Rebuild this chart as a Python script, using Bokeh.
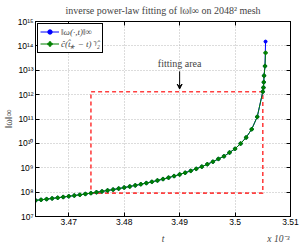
from bokeh.plotting import figure
from bokeh.models import (Range1d, LinearAxis, LogAxis, FixedTicker, CustomJSTickFormatter,
                          Label, Arrow, VeeHead, Legend, LegendItem, Title)
from bokeh.embed import file_html
from bokeh.resources import INLINE

# time in units of 1e-3
t = [3.464, 3.465, 3.466, 3.467, 3.468, 3.469, 3.470, 3.471, 3.472, 3.473,
     3.474, 3.475, 3.476, 3.477, 3.478, 3.479, 3.480, 3.481, 3.482, 3.483,
     3.484, 3.485, 3.486, 3.487, 3.488, 3.489, 3.490, 3.491, 3.492, 3.493,
     3.494, 3.495, 3.496, 3.497, 3.498, 3.499, 3.500, 3.501, 3.502, 3.503,
     3.504, 3.505, 3.50512, 3.50518, 3.50523, 3.50540, 3.50550]

omega_max = [4.57e7, 4.86e7, 5.16e7, 5.51e7, 5.88e7, 6.29e7, 6.74e7, 7.24e7, 7.79e7, 8.41e7,
             9.08e7, 9.85e7, 1.07e8, 1.17e8, 1.27e8, 1.40e8, 1.54e8, 1.70e8, 1.89e8, 2.10e8,
             2.35e8, 2.65e8, 3.00e8, 3.42e8, 3.93e8, 4.54e8, 5.30e8, 6.25e8, 7.46e8, 9.03e8,
             1.11e9, 1.39e9, 1.77e9, 2.30e9, 2.95e9, 4.20e9, 6.0e9, 9.8e9, 1.74e10, 3.8e10,
             1.23e11, 1.32e12, 1.95e12, 3.24e12, 6.0e12, 1.48e13, 1.5e14]

omega_fit = [4.57e7, 4.86e7, 5.16e7, 5.51e7, 5.88e7, 6.29e7, 6.74e7, 7.24e7, 7.79e7, 8.41e7,
             9.08e7, 9.85e7, 1.07e8, 1.17e8, 1.27e8, 1.40e8, 1.54e8, 1.70e8, 1.89e8, 2.10e8,
             2.35e8, 2.65e8, 3.00e8, 3.42e8, 3.93e8, 4.54e8, 5.30e8, 6.25e8, 7.46e8, 9.03e8,
             1.11e9, 1.39e9, 1.77e9, 2.30e9, 2.95e9, 4.20e9, 6.0e9, 9.8e9, 1.74e10, 3.8e10,
             1.23e11, 1.32e12, 1.95e12, 3.24e12, 6.0e12, 1.48e13, 5.2e13]

fit_start_idx = 10   # t = 3.474
fit_end_idx = 41     # t = 3.505

x_ticks = [3.47, 3.48, 3.49, 3.50, 3.51]
y_ticks = [1e7, 1e8, 1e9, 1e10, 1e11, 1e12, 1e13, 1e14, 1e15]
x_title_pos = [3.487, 3.5078]   # where "t" and the multiplier sit
x_title_text = ["t", "x 10\u207b\u00b3"]

annot_t = 3.49
annot_text_y = 1.1e13
annot_arrow_from = 9.0e12
annot_arrow_to = 1.7e12

SANS = "Liberation Sans"
SERIF = "Liberation Serif"

p = figure(width=301, height=246, x_range=Range1d(3.464, 3.51), y_range=Range1d(1e7, 1e15),
           y_axis_type="log", output_backend="svg", toolbar_location=None,
           min_border_left=32, min_border_right=11, min_border_top=19, min_border_bottom=25,
           background_fill_color="white", border_fill_color="white")

p.title.text = "inverse power-law fitting of \u2016\u03c9\u2016\u221e on 2048\u00b2 mesh"
p.title.text_font = SERIF
p.title.text_font_size = "10px"
p.title.text_font_style = "normal"
p.title.align = "center"
p.title.standoff = 4
p.title.offset = 0

# y-axis title as a side title
p.add_layout(Title(text="\u2016\u03c9\u2016\u221e", align="center", text_font=SERIF,
                   text_font_size="10px", text_font_style="normal", standoff=1), "left")

sup_code = """
const sup = {'0':'\u2070','1':'\u00b9','2':'\u00b2','3':'\u00b3','4':'\u2074','5':'\u2075',
             '6':'\u2076','7':'\u2077','8':'\u2078','9':'\u2079','-':'\u207b'};
const e = Math.round(Math.log10(tick));
return '10' + String(e).split('').map(c => sup[c]).join('');
"""
x_code = """
let s = tick.toFixed(2);
if (s.endsWith('0')) { s = s.slice(0, -1); }
return s;
"""

for ax in p.yaxis:
    ax.ticker = FixedTicker(ticks=y_ticks)
    ax.formatter = CustomJSTickFormatter(code=sup_code)
for ax in p.xaxis:
    ax.ticker = FixedTicker(ticks=x_ticks)
    ax.formatter = CustomJSTickFormatter(code=x_code)

for ax in list(p.xaxis) + list(p.yaxis):
    ax.major_label_text_font = SANS
    ax.major_label_text_font_size = "8.5px"
    ax.major_label_standoff = 2
    ax.major_tick_in = 4
    ax.major_tick_out = 0
    ax.minor_tick_in = 0
    ax.minor_tick_out = 0
    ax.axis_line_color = "black"
    ax.major_tick_line_color = "black"
    ax.major_label_text_color = "black"

# second row below the x axis: axis title "t" and the multiplier
x_title_code = "const names = %r; return names[index];" % x_title_text
ax_b2 = LinearAxis(ticker=FixedTicker(ticks=x_title_pos),
                   formatter=CustomJSTickFormatter(code=x_title_code),
                   major_label_text_font=SERIF, major_label_text_font_size="9.5px",
                   major_label_text_font_style="italic", major_label_standoff=0,
                   axis_line_color=None, major_tick_line_color=None,
                   minor_tick_line_color=None)
p.add_layout(ax_b2, "below")

# tick marks on top and right (matplotlib style), no labels
ax_r = LogAxis(ticker=FixedTicker(ticks=y_ticks), formatter=CustomJSTickFormatter(code="return ' ';"),
               major_label_text_font_size="1px",
               major_label_standoff=0, major_tick_in=4, major_tick_out=0,
               minor_tick_in=0, minor_tick_out=0)
p.add_layout(ax_r, "right")
ax_t = LinearAxis(ticker=FixedTicker(ticks=x_ticks), formatter=CustomJSTickFormatter(code="return ' ';"),
                  major_label_text_font_size="1px",
                  major_label_standoff=0, major_tick_in=4, major_tick_out=0,
                  minor_tick_in=0, minor_tick_out=0)
p.add_layout(ax_t, "above")

p.xgrid.ticker = FixedTicker(ticks=x_ticks)
p.ygrid.ticker = FixedTicker(ticks=y_ticks)
for g in [p.xgrid, p.ygrid]:
    g.grid_line_color = "#b8b8b8"
    g.grid_line_dash = "1 2"
    g.grid_line_width = 1

p.outline_line_color = "black"
p.outline_line_width = 1

# fitting area box
t0, t1 = t[fit_start_idx], t[fit_end_idx]
w0, w1 = omega_max[fit_start_idx], omega_max[fit_end_idx]
p.line([t0, t1, t1, t0, t0], [w0, w0, w1, w1, w0], line_color="red", line_alpha=0.75,
       line_width=1.6, line_dash="4 3")

# data and fit
r1l = p.line(t, omega_max, line_color="blue", line_width=1)
r1m = p.scatter(t, omega_max, marker="circle", size=3, fill_color="blue", line_color="blue")
r2l = p.line(t, omega_fit, line_color="green", line_width=1)
r2m = p.scatter(t, omega_fit, marker="plus", size=3.5, fill_color="green", line_color="green",
                line_width=1)

# annotation
p.add_layout(Arrow(end=VeeHead(size=5, line_color="black", fill_color="black", line_width=1),
                   x_start=annot_t, y_start=annot_arrow_from, x_end=annot_t, y_end=annot_arrow_to,
                   line_color="black", line_width=1))
p.add_layout(Label(x=annot_t, y=annot_text_y, text="fitting area", text_font=SERIF,
                   text_font_size="10px", text_align="center", text_baseline="bottom"))

legend = Legend(items=[
    LegendItem(label="\u2016\u03c9(\u00b7,t)\u2016\u221e", renderers=[r1l, r1m]),
    LegendItem(label="\u0109(t\u0302\u204e \u2212 t)\u207b\u1d5e\u0302\u2082", renderers=[r2l, r2m]),
], location="top_left")
legend.label_text_font = SERIF
legend.label_text_font_size = "9px"
legend.label_text_font_style = "italic"
legend.border_line_color = "black"
legend.border_line_width = 1
legend.border_line_alpha = 1
legend.background_fill_alpha = 1
legend.padding = 2
legend.spacing = 0
legend.margin = 2
legend.glyph_width = 19
legend.glyph_height = 11
legend.label_height = 11
legend.label_standoff = 2
p.add_layout(legend)

open("out.html", "w").write(file_html(p, INLINE))
